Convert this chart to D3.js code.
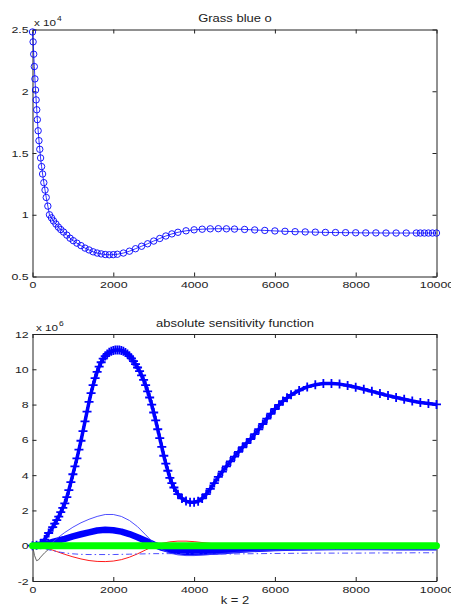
<!DOCTYPE html>
<html>
<head>
<meta charset="utf-8">
<script src="https://cdn.jsdelivr.net/npm/d3@7"></script>
<style>
body { margin: 0; background: #fff; }
svg text { font-family: "Liberation Sans", Arial, sans-serif; fill: #222; }
</style>
</head>
<body>
<div id="chart"></div>
<script>
// ticks
const xTicks = [0, 2000, 4000, 6000, 8000, 10000];
const topYTicks = [0.5, 1, 1.5, 2, 2.5];
const bottomYTicks = [-2, 0, 2, 4, 6, 8, 10, 12];

// top panel: Grass blue o  (values x 10^4)
const grassT = [0, 15, 30, 45, 60, 75, 90, 105, 120, 140, 160, 180, 200, 225, 250, 280, 310, 340, 380, 420,
    470, 520, 580, 640, 700, 770, 850, 930, 1010, 1100, 1200, 1300, 1400, 1500, 1600, 1700, 1800, 1900, 2000,
    2100, 2250, 2400, 2550, 2700, 2850, 3000, 3150, 3300, 3450, 3600, 3800, 4000, 4200, 4400, 4600, 4800,
    5000, 5250, 5500, 5750, 6000, 6250, 6500, 6750, 7000, 7250, 7500, 7750, 8000, 8250, 8500, 8750, 9000,
    9250, 9500, 9600, 9700, 9800, 9900, 10000];
const grassV = [2.48, 2.40, 2.30, 2.20, 2.10, 2.01, 1.93, 1.85, 1.77, 1.68, 1.60, 1.53, 1.46, 1.39, 1.33, 1.26, 1.20, 1.14, 1.07, 1.00,
    0.975, 0.95, 0.925, 0.90, 0.88, 0.86, 0.835, 0.81, 0.79, 0.77, 0.75, 0.73, 0.715, 0.70, 0.69, 0.683, 0.678, 0.676, 0.677,
    0.68, 0.69, 0.705, 0.725, 0.745, 0.765, 0.787, 0.808, 0.828, 0.845, 0.858, 0.87, 0.878, 0.883, 0.886, 0.887, 0.886,
    0.884, 0.881, 0.877, 0.873, 0.869, 0.866, 0.863, 0.861, 0.859, 0.857, 0.856, 0.855, 0.854, 0.853, 0.853, 0.852, 0.852,
    0.852, 0.852, 0.852, 0.852, 0.852, 0.852, 0.852];

// bottom panel: absolute sensitivity function (values x 10^6)
const plusT = [0, 100, 200, 300, 400, 500, 550, 600, 650, 700, 750, 800, 850, 900, 950, 1000, 1050, 1100, 1150, 1200,
    1250, 1300, 1350, 1400, 1450, 1500, 1550, 1600, 1650, 1700, 1750, 1800, 1850, 1900, 1950, 2000, 2050, 2100,
    2150, 2200, 2250, 2300, 2350, 2400, 2450, 2500, 2550, 2600, 2650, 2700, 2750, 2800, 2850, 2900, 2950, 3000,
    3050, 3100, 3150, 3200, 3250, 3300, 3350, 3400, 3450, 3500, 3600, 3700, 3800, 3900, 4000, 4100, 4200, 4300,
    4400, 4500, 4600, 4700, 4800, 4900, 5000, 5100, 5200, 5300, 5400, 5500, 5600, 5700, 5800, 5900, 6000, 6100,
    6200, 6300, 6400, 6600, 6800, 7000, 7200, 7400, 7600, 7800, 8000, 8200, 8400, 8600, 8800, 9000, 9200, 9400,
    9600, 9800, 10000];
const plusV = [0, 0.03, 0.12, 0.35, 0.72, 1.05, 1.25, 1.45, 1.65, 1.9, 2.15, 2.4, 2.75, 3.15, 3.6, 4.05, 4.5, 4.95, 5.45, 5.95,
    6.5, 7.05, 7.6, 8.15, 8.65, 9.1, 9.5, 9.85, 10.15, 10.4, 10.6, 10.75, 10.87, 10.96, 11.02, 11.06, 11.09, 11.1,
    11.1, 11.07, 11.02, 10.95, 10.86, 10.75, 10.62, 10.46, 10.29, 10.1, 9.9, 9.65, 9.4, 9.1, 8.75, 8.4, 8.0, 7.55,
    7.1, 6.6, 6.1, 5.6, 5.1, 4.65, 4.25, 3.85, 3.55, 3.3, 2.92, 2.68, 2.53, 2.46, 2.46, 2.52, 2.68, 2.92,
    3.22, 3.55, 3.9, 4.2, 4.5, 4.78, 5.05, 5.32, 5.58, 5.82, 6.05, 6.32, 6.6, 6.9, 7.2, 7.48, 7.75, 7.98,
    8.2, 8.38, 8.55, 8.8, 9.0, 9.12, 9.19, 9.2, 9.16, 9.08, 8.98, 8.87, 8.75, 8.63, 8.51, 8.4, 8.3, 8.2,
    8.12, 8.06, 8.01];

const lineT = [0, 50, 100, 150, 200, 300, 400, 500, 600, 700, 800,
    1000, 1200, 1400, 1600, 1800, 2000, 2200, 2400, 2600, 2800, 3000, 3200, 3400, 3600, 3800, 4000,
    4400, 4800, 5200, 5600,
    6000, 6500, 7000, 7500, 8000, 8500, 9000, 9500, 10000];
const thickBlueV = [0, 0.01, 0.02, 0.04, 0.06, 0.1, 0.15, 0.21, 0.27, 0.33, 0.39,
    0.53, 0.65, 0.76, 0.86, 0.9, 0.88, 0.8, 0.66, 0.48, 0.28, 0.07, -0.11, -0.24, -0.32, -0.36, -0.37,
    -0.34, -0.28, -0.22, -0.17,
    -0.13, -0.1, -0.08, -0.07, -0.07, -0.07, -0.08, -0.08, -0.08];
const thinBlueV = [0, -0.05, -0.1, -0.14, -0.17, -0.14, 0.02, 0.2, 0.4, 0.58, 0.75,
    1.05, 1.3, 1.5, 1.66, 1.77, 1.77, 1.66, 1.43, 1.08, 0.62, 0.15, -0.22, -0.42, -0.52, -0.56, -0.56,
    -0.5, -0.42, -0.35, -0.3,
    -0.27, -0.24, -0.22, -0.21, -0.2, -0.2, -0.2, -0.2, -0.2];
const redV = [0, 0, -0.01, -0.02, -0.04, -0.1, -0.17, -0.25, -0.33, -0.41, -0.49,
    -0.63, -0.75, -0.84, -0.89, -0.9, -0.87, -0.79, -0.65, -0.46, -0.24, -0.02, 0.13, 0.22, 0.26, 0.26, 0.23,
    0.13, 0.05, 0, -0.02,
    -0.02, -0.01, 0, 0, 0, 0, 0, 0, 0];
const grayV = [0, -0.55, -0.85, -0.8, -0.65, -0.4, -0.2, -0.08, 0, 0.03, 0.05,
    0.06, 0.06, 0.05, 0.05, 0.04, 0.04, 0.03, 0.02, 0.01, 0, 0, -0.01, -0.02, -0.02, -0.02, -0.02,
    -0.02, -0.01, -0.01, 0,
    0, 0, 0, 0, 0, 0, 0, 0, 0];
const dashDotV = [0, -0.02, -0.05, -0.08, -0.11, -0.17, -0.23, -0.28, -0.33, -0.37, -0.41,
    -0.46, -0.49, -0.5, -0.5, -0.5, -0.5, -0.49, -0.48, -0.47, -0.46, -0.45, -0.45, -0.45, -0.45, -0.45, -0.46,
    -0.47, -0.47, -0.46, -0.45,
    -0.44, -0.43, -0.42, -0.42, -0.42, -0.41, -0.41, -0.4, -0.4];
const greenT = [0, 2000, 4000, 6000, 8000, 10000];
const greenV = [0, 0, 0, 0, 0, 0];

const W = 451, H = 605;
const left = 32.5, right = 436.5;
const topBox = { top: 29.5, bottom: 276.5 };
const botBox = { top: 334, bottom: 581 };
const stretch = 1.3;

const svg = d3.select("#chart").append("svg")
    .attr("width", W)
    .attr("height", H);

const x = d3.scaleLinear().domain([0, 10000]).range([left, right]);
const yTop = d3.scaleLinear().domain([0.5, 2.5]).range([topBox.bottom, topBox.top]);
const yBot = d3.scaleLinear().domain([-2, 12]).range([botBox.bottom, botBox.top]);

// stretched text, matching the wide font of the picture
function label(parent, px, py, str, size, anchor) {
    parent.append("g")
        .attr("transform", `translate(${px},${py}) scale(${stretch},1)`)
        .append("text")
        .attr("text-anchor", anchor || "middle")
        .style("font-size", size + "px")
        .text(str);
}

function frame(y, box, yTicks) {
    const g = svg.append("g");
    const bottomAxis = g.append("g")
        .attr("transform", `translate(0,${box.bottom})`)
        .call(d3.axisBottom(x).tickValues(xTicks).tickSize(-4).tickSizeOuter(0).tickPadding(5).tickFormat(d3.format("d")));
    g.append("g")
        .attr("transform", `translate(0,${box.top})`)
        .call(d3.axisTop(x).tickValues(xTicks).tickSize(-4).tickSizeOuter(0).tickFormat(""));
    const leftAxis = g.append("g")
        .attr("transform", `translate(${left},0)`)
        .call(d3.axisLeft(y).tickValues(yTicks).tickSize(-4).tickSizeOuter(0).tickPadding(3).tickFormat(d => String(d)));
    g.append("g")
        .attr("transform", `translate(${right},0)`)
        .call(d3.axisRight(y).tickValues(yTicks).tickSize(-4).tickSizeOuter(0).tickFormat(""));
    g.selectAll(".domain, .tick line").attr("stroke", "#222");
    g.selectAll(".tick text").style("font-size", "9.5px").attr("fill", "#222")
        .attr("font-family", "Liberation Sans, Arial, sans-serif");
    bottomAxis.selectAll(".tick text").attr("transform", `scale(${stretch},1)`);
    leftAxis.selectAll(".tick text").attr("transform", `scale(${stretch},1)`);
    return g;
}

// ---------- top panel ----------
frame(yTop, topBox, topYTicks);
const grass = grassT.map((t, i) => ({ t: t, v: grassV[i] }));
const topG = svg.append("g");
topG.append("path")
    .datum(grass)
    .attr("fill", "none")
    .attr("stroke", "#0000ff")
    .attr("stroke-width", 0.8)
    .attr("d", d3.line().x(d => x(d.t)).y(d => yTop(d.v)));
topG.selectAll("circle")
    .data(grass)
    .join("circle")
    .attr("cx", d => x(d.t))
    .attr("cy", d => yTop(d.v))
    .attr("r", 3.2)
    .attr("fill", "none")
    .attr("stroke", "#0000ff")
    .attr("stroke-width", 0.9);

label(svg, 235, 21.5, "Grass blue o", 10);
label(svg, 34, 26, "x 10", 9, "start");
label(svg, 57, 21, "4", 6.5, "start");

// ---------- bottom panel ----------
frame(yBot, botBox, bottomYTicks);
const botG = svg.append("g");
const line = d3.line().x(d => x(d.t)).y(d => yBot(d.v));
const pts = (ts, vs) => ts.map((t, i) => ({ t: t, v: vs[i] }));

const plus = pts(plusT, plusV);
botG.append("path").datum(plus)
    .attr("fill", "none").attr("stroke", "#0000ff").attr("stroke-width", 3.5)
    .attr("stroke-linejoin", "round").attr("d", line);
botG.selectAll("path.plus")
    .data(plus)
    .join("path")
    .attr("class", "plus")
    .attr("transform", d => `translate(${x(d.t)},${yBot(d.v)})`)
    .attr("d", "M-4.5,0H4.5M0,-4.5V4.5")
    .attr("stroke", "#0000ff")
    .attr("stroke-width", 1.8);

botG.append("path").datum(pts(lineT, thickBlueV))
    .attr("fill", "none").attr("stroke", "#0000ff").attr("stroke-width", 6.5)
    .attr("stroke-linejoin", "round").attr("d", line);
botG.append("path").datum(pts(lineT, thinBlueV))
    .attr("fill", "none").attr("stroke", "#3a3aff").attr("stroke-width", 0.9).attr("d", line);
botG.append("path").datum(pts(lineT, redV))
    .attr("fill", "none").attr("stroke", "#ff0000").attr("stroke-width", 0.9).attr("d", line);
botG.append("path").datum(pts(lineT, grayV))
    .attr("fill", "none").attr("stroke", "#555").attr("stroke-width", 0.9).attr("d", line);
botG.append("path").datum(pts(lineT, dashDotV))
    .attr("fill", "none").attr("stroke", "#3a3aff").attr("stroke-width", 0.9)
    .attr("stroke-dasharray", "6,3,1.5,3").attr("d", line);
botG.append("path").datum(pts(greenT, greenV))
    .attr("fill", "none").attr("stroke", "#00ff00").attr("stroke-width", 7)
    .attr("stroke-linecap", "round").attr("d", line);

label(svg, 235, 326.5, "absolute sensitivity function", 10);
label(svg, 36, 330.5, "x 10", 9, "start");
label(svg, 59, 325.5, "6", 6.5, "start");
label(svg, 235, 603.5, "k = 2", 10);
</script>
</body>
</html>
